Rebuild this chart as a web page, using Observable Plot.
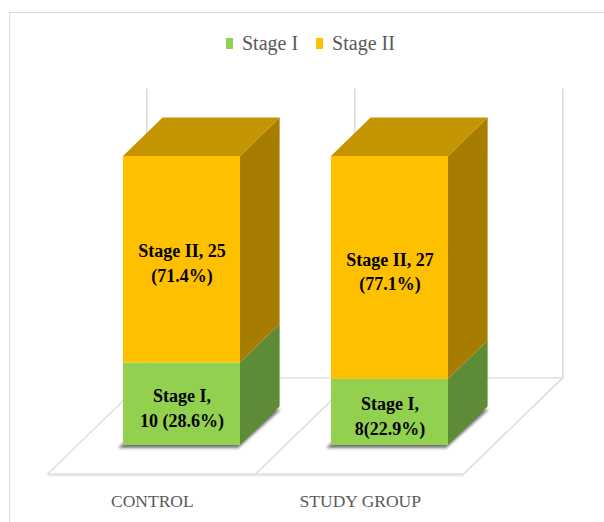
<!DOCTYPE html>
<html><head><meta charset="utf-8">
<script src="https://cdn.jsdelivr.net/npm/d3@7"></script>
<script src="https://cdn.jsdelivr.net/npm/@observablehq/plot@0.6"></script>
<style>
html,body{margin:0;padding:0;background:#fff;overflow:hidden;width:604px;height:522px;}
#frame{position:absolute;left:9px;top:12px;width:700px;height:600px;border:1px solid #d9d9d9;pointer-events:none;z-index:2;}
#legend{position:absolute;left:226px;top:30px;height:26px;display:flex;align-items:center;font-family:"Liberation Serif",serif;font-size:20px;color:#595959;}
.sw{width:7px;height:11px;margin-right:9px;}
.item{display:flex;align-items:center;margin-right:18px;}
#chart{position:absolute;left:0;top:60px;}
</style></head><body>
<div id="legend"></div><div id="chart"></div><div id="frame"></div>
<script>
const categories = ["CONTROL", "STUDY GROUP"];
const series = ["Stage I", "Stage II"];
const stageI = [10, 8];
const stageII = [25, 27];
const labelsI = ["Stage I,\n10 (28.6%)", "Stage I,\n8(22.9%)"];
const labelsII = ["Stage II, 25\n(71.4%)", "Stage II, 27\n(77.1%)"];
const yMax = 35;

const frontColors = ["#92D050", "#FFC000"];
const sideColors = ["#5E8B35", "#A67D00"];
const topColors = ["#76A840", "#C49500"];
const gridColor = "#d9d9d9";
const FD = [99, -96];          // full floor depth vector (px)
const barFront = 0.3, barBack = 0.7;

const rows = categories.flatMap((c, i) => [
  {category: c, series: series[0], value: stageI[i], label: labelsI[i]},
  {category: c, series: series[1], value: stageII[i], label: labelsII[i]}
]);

// legend
const legend = document.getElementById("legend");
series.forEach((s, k) => {
  const it = document.createElement("div"); it.className = "item";
  const sw = document.createElement("div"); sw.className = "sw"; sw.style.background = frontColors[k];
  const tx = document.createElement("span"); tx.textContent = s;
  it.append(sw, tx); legend.append(it);
});

const pts = a => a.map(p => p.join(",")).join(" ");

function floorAndWalls(index, scales) {
  const x = scales.x, y = scales.y;
  const bw = x.bandwidth(), step = x.step();
  const centers = categories.map(c => x(c) + bw / 2);
  const bounds = [centers[0] - step / 2, ...centers.map(c => c + step / 2)];
  const y0 = y(0), yT = y(yMax);
  const ox = -barFront * FD[0], oy = -barFront * FD[1];
  const bx = (1 - barFront) * FD[0], by = (1 - barFront) * FD[1];
  const g = d3.create("svg:g");
  const b0 = bounds[0], bN = bounds[bounds.length - 1];
  bounds.forEach(b => {
    g.append("line").attr("x1", b + bx).attr("x2", b + bx)
      .attr("y1", y0 + by).attr("y2", yT + by)
      .attr("stroke", gridColor).attr("stroke-width", 1.5);
  });
  g.append("polygon").attr("points", pts([[b0 + ox, y0 + oy], [bN + ox, y0 + oy], [bN + bx, y0 + by], [b0 + bx, y0 + by]]))
    .attr("fill", "none").attr("stroke", gridColor).attr("stroke-width", 1.3);
  bounds.slice(1, -1).forEach(b => {
    g.append("line").attr("x1", b + ox).attr("y1", y0 + oy).attr("x2", b + bx).attr("y2", y0 + by)
      .attr("stroke", gridColor).attr("stroke-width", 1.3);
  });
  g.append("line").attr("x1", b0 + ox).attr("x2", bN + ox).attr("y1", y0 + oy + 1.5).attr("y2", y0 + oy + 1.5)
    .attr("stroke", "#e6e6e6").attr("stroke-width", 2);
  return g.node();
}

function bars3d(index, scales) {
  const x = scales.x, y = scales.y, bw = x.bandwidth();
  const dx = (barBack - barFront) * FD[0], dy = (barBack - barFront) * FD[1];
  const g = d3.create("svg:g");
  g.append("defs").append("filter").attr("id", "shblur").attr("x", "-20%").attr("y", "-50%").attr("width", "140%").attr("height", "200%")
    .append("feGaussianBlur").attr("stdDeviation", 1.8);
  categories.forEach((c, i) => {
    const xl = x(c), xr = xl + bw, y0 = y(0);
    const vals = [stageI[i], stageII[i]];
    g.append("polygon").attr("points", pts([[xl - 5, y0 + 3], [xr - 2, y0 + 3], [xr + dx + 1, y0 + dy + 3], [xl + dx, y0 + dy + 3]]))
      .attr("fill", "#000").attr("opacity", 0.55).attr("filter", "url(#shblur)");
    let acc = 0;
    vals.forEach((v, k) => {
      const a = y(acc), b = y(acc + v);
      g.append("polygon").attr("points", pts([[xr, a], [xr, b], [xr + dx, b + dy], [xr + dx, a + dy]]))
        .attr("fill", sideColors[k]);
      acc += v;
    });
    const t = y(acc);
    g.append("polygon").attr("points", pts([[xl, t], [xr, t], [xr + dx, t + dy], [xl + dx, t + dy]]))
      .attr("fill", topColors[vals.length - 1]);
  });
  return g.node();
}

const chart = Plot.plot({
  width: 604, height: 462,
  marginLeft: 32, marginRight: 65, marginTop: 96, marginBottom: 77,
  style: {background: "transparent"},
  x: {domain: categories, padding: 0.4375, axis: null},
  y: {domain: [0, yMax], axis: null},
  color: {domain: series, range: frontColors},
  marks: [
    floorAndWalls,
    bars3d,
    Plot.barY(rows, {x: "category", y: "value", fill: "series"}),
    Plot.text(rows, Plot.stackY({x: "category", y: "value", z: "series", text: "label",
      fontFamily: "Liberation Serif", fontWeight: "bold", fontSize: 18, lineHeight: 1.38, fill: "#000", dy: 2})),
    Plot.text(categories, {x: d => d, y: () => 0, text: d => d, dx: -barFront * FD[0], dy: 56,
      fontFamily: "Liberation Serif", fontSize: 17.5, fill: "#595959", ariaLabel: "category-labels"})
  ]
});
d3.select(chart).selectAll('g[aria-label="category-labels"] text').attr("letter-spacing", "0.2");
document.getElementById("chart").append(chart);
</script>
</body></html>
